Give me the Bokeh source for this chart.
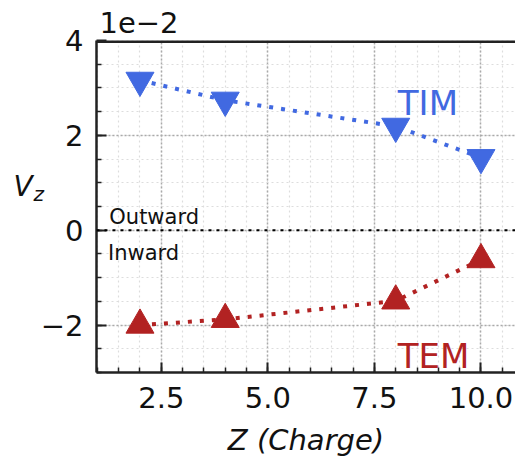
from bokeh.plotting import figure
from bokeh.models import (FixedTicker, CustomJSTickFormatter, Span, Label, Range1d)
from bokeh.embed import file_html
from bokeh.resources import INLINE

# ---- data ----
charge = [2, 4, 8, 10]
tim_vz = [0.0316, 0.0274, 0.0219, 0.0153]
tem_vz = [-0.0200, -0.0188, -0.0149, -0.0062]

x_major_ticks = [2.5, 5.0, 7.5, 10.0]
y_major_ticks = [-0.02, 0.0, 0.02, 0.04]

TIM_COLOR = "#4169E1"
TEM_COLOR = "#B22222"
FONT = "DejaVu Sans"

p = figure(width=515, height=459, output_backend="svg", toolbar_location=None,
           x_range=Range1d(0.98, 10.81), y_range=Range1d(-0.03, 0.04),
           min_border_left=96, min_border_right=0, min_border_top=40,
           min_border_bottom=87)
p.outline_line_color = None
p.background_fill_color = "white"
p.border_fill_color = "white"

# axes
xt = FixedTicker(ticks=x_major_ticks, minor_ticks=[1 + 0.5 * i for i in range(21)])
yt = FixedTicker(ticks=y_major_ticks, minor_ticks=[-0.03 + 0.005 * i for i in range(15)])
p.xaxis.ticker = xt
p.yaxis.ticker = yt
p.xaxis.formatter = CustomJSTickFormatter(code="return tick.toFixed(1);")
p.yaxis.formatter = CustomJSTickFormatter(
    code="var v = Math.round(tick*100); return (v < 0 ? '\u2212' + (-v) : '' + v);")

for ax in (p.xaxis[0], p.yaxis[0]):
    ax.axis_line_width = 2.5
    ax.axis_line_color = "#222222"
    ax.major_tick_in = 10
    ax.major_tick_out = 0
    ax.minor_tick_in = 5
    ax.minor_tick_out = 0
    ax.major_tick_line_width = 2
    ax.minor_tick_line_width = 1.5
    ax.major_tick_line_color = "#222222"
    ax.minor_tick_line_color = "#222222"
    ax.major_label_text_font = FONT
    ax.major_label_text_font_size = "29px"
    ax.major_label_text_color = "#111111"
p.xaxis.major_label_standoff = 14
p.yaxis.major_label_standoff = 13

p.xaxis.axis_label = "Z (Charge)"
p.xaxis.axis_label_text_font = FONT
p.xaxis.axis_label_text_font_style = "italic"
p.xaxis.axis_label_text_font_size = "29px"
p.xaxis.axis_label_text_color = "#111111"
p.xaxis.axis_label_standoff = 12

# grids
for g in (p.xgrid[0], p.ygrid[0]):
    g.grid_line_color = "#aaaaaa"
    g.grid_line_width = 1.5
    g.grid_line_dash = "2 2"
    g.minor_grid_line_color = "#dddddd"
    g.minor_grid_line_width = 1.2
    g.minor_grid_line_dash = "2 3"

# top spine (half of it falls inside the frame)
p.add_layout(Span(location=0.04, dimension="width", line_color="#222222", line_width=5))
# zero line
p.add_layout(Span(location=0.0, dimension="width", line_color="black", line_width=2,
                  line_dash="3 5"))

# series
p.line(charge, tim_vz, line_color=TIM_COLOR, line_width=4, line_dash="4 8")
p.scatter(charge, tim_vz, marker="inverted_triangle", size=28, fill_color=TIM_COLOR,
          line_color=TIM_COLOR)
p.line(charge, tem_vz, line_color=TEM_COLOR, line_width=4, line_dash="4 8")
p.scatter(charge, tem_vz, marker="triangle", size=28, fill_color=TEM_COLOR,
          line_color=TEM_COLOR)

def mk(x, y, text, size, color="#111111", style="normal", units="data"):
    return Label(x=x, y=y, x_units=units, y_units=units, text=text,
                 text_font=FONT, text_font_size=size,
                 text_color=color, text_font_style=style, text_align="left",
                 text_baseline="alphabetic")

p.add_layout(mk(8.05, 0.0269, "TIM", "34px", TIM_COLOR))
p.add_layout(mk(8.05, -0.0265, "TEM", "34px", TEM_COLOR))
p.add_layout(mk(1.28, 0.0027, "Outward", "21px"))
p.add_layout(mk(1.25, -0.0049, "Inward", "21px"))
# outside the frame: placed in side panels so they are not clipped
p.add_layout(mk(99, 22, "1e\u22122", "29px", units="canvas"), "above")
p.add_layout(mk(13, 186, "V", "28px", style="italic", units="canvas"), "left")
p.add_layout(mk(33, 193, "z", "20px", style="italic", units="canvas"), "left")

open("out.html", "w").write(file_html(p, INLINE))
